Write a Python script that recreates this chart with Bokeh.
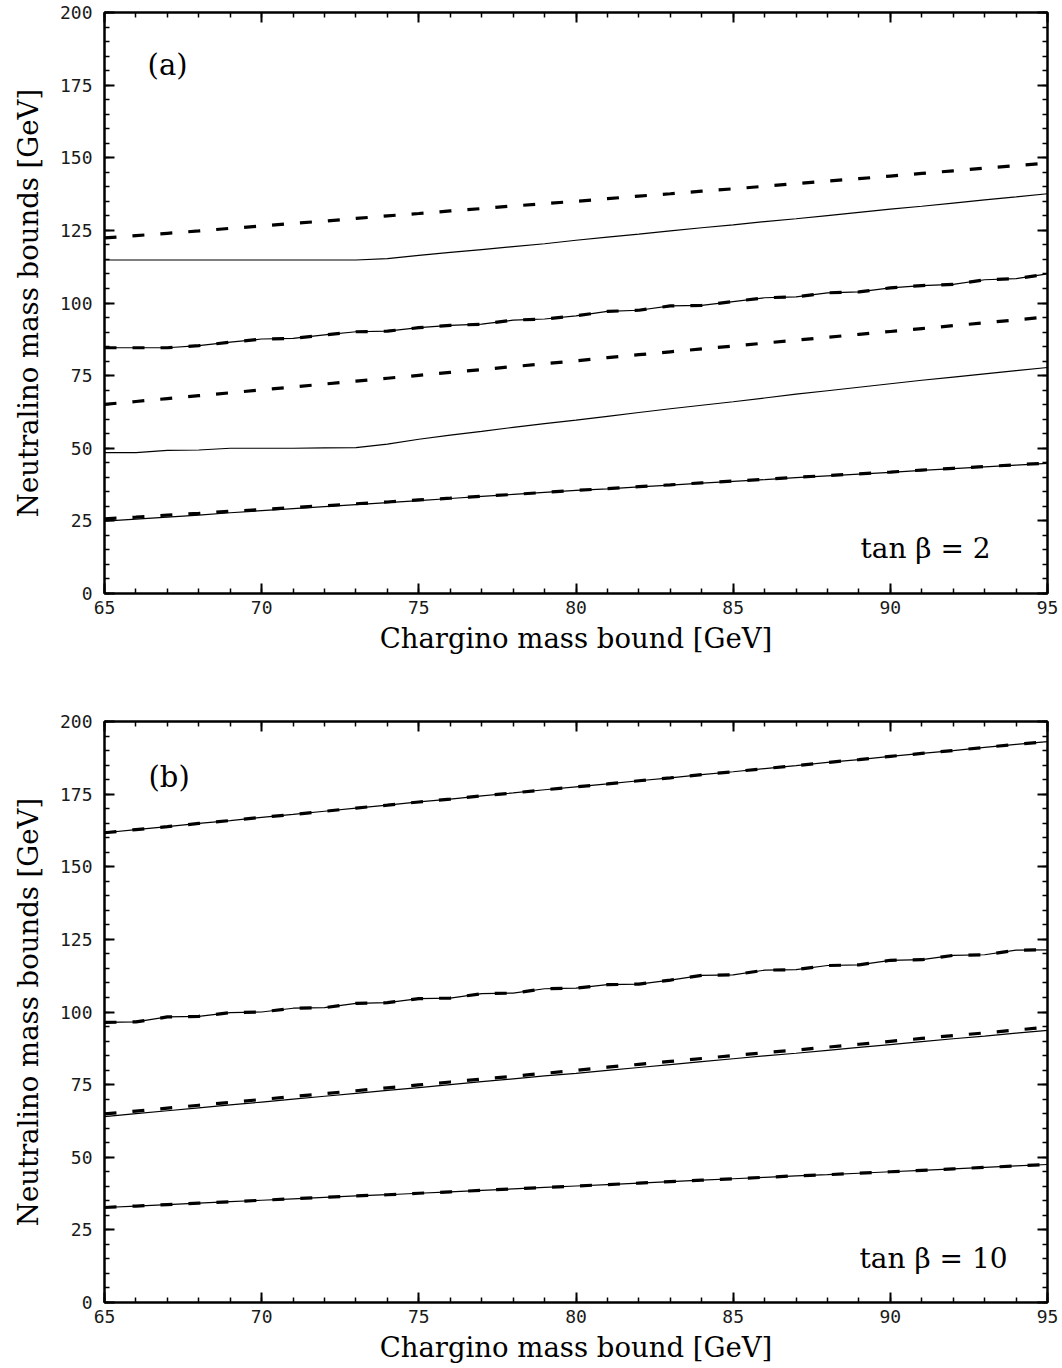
from bokeh.plotting import figure
from bokeh.layouts import column
from bokeh.models import SingleIntervalTicker, LinearAxis, Range1d, CustomJSTickFormatter
from bokeh.core.properties import value
from bokeh.embed import file_html
from bokeh.resources import INLINE

# chargino mass bound [GeV]
chargino = list(range(65, 96))

# ---- panel (a): tan beta = 2 ----
a_dash_top = [122.4, 123.2, 124.0, 124.8, 125.7, 126.5, 127.4, 128.2, 129.1, 130.0, 130.8,
              131.7, 132.5, 133.4, 134.2, 135.0, 135.9, 136.8, 137.6, 138.5, 139.3,
              140.2, 141.1, 142.0, 142.8, 143.7, 144.6, 145.5, 146.4, 147.3, 148.2]
a_solid_top = [114.8, 114.8, 114.8, 114.8, 114.8, 114.8, 114.8, 114.8, 114.8, 115.3, 116.4,
               117.4, 118.4, 119.4, 120.4, 121.6, 122.7, 123.7, 124.8, 125.9, 126.9,
               128.0, 129.0, 130.1, 131.2, 132.3, 133.3, 134.4, 135.5, 136.5, 137.6]
a_mid = [84.6, 84.6, 84.6, 85.3, 86.5, 87.6, 87.8, 89.0, 90.1, 90.3, 91.5,
         92.3, 92.7, 94.1, 94.5, 95.6, 97.1, 97.5, 99.0, 99.2, 100.5,
         101.8, 102.1, 103.5, 103.8, 105.2, 106.0, 106.4, 108.0, 108.4, 110.0]
a_dash_low = [65.1, 66.1, 67.1, 68.1, 69.1, 70.1, 71.1, 72.1, 73.1, 74.1, 75.1,
              76.1, 77.1, 78.1, 79.1, 80.1, 81.2, 82.2, 83.2, 84.2, 85.2,
              86.2, 87.2, 88.2, 89.2, 90.2, 91.2, 92.2, 93.2, 94.2, 95.2]
a_solid_low = [48.5, 48.5, 49.3, 49.4, 50.0, 50.0, 50.0, 50.1, 50.2, 51.4, 53.1,
               54.5, 55.8, 57.2, 58.5, 59.7, 61.0, 62.3, 63.6, 64.8, 66.0,
               67.3, 68.6, 69.8, 71.0, 72.2, 73.4, 74.5, 75.6, 76.7, 77.8]
a_bot_dash = [25.7, 26.3, 27.0, 27.6, 28.3, 28.9, 29.6, 30.2, 30.9, 31.5, 32.2,
              32.8, 33.5, 34.1, 34.8, 35.5, 36.1, 36.8, 37.4, 38.1, 38.7,
              39.3, 40.0, 40.6, 41.2, 41.8, 42.5, 43.1, 43.7, 44.3, 44.9]
a_bot_solid = [24.9, 25.6, 26.3, 27.0, 27.8, 28.5, 29.2, 29.9, 30.6, 31.3, 32.0,
               32.7, 33.4, 34.1, 34.8, 35.5, 36.0, 36.7, 37.3, 38.0, 38.6,
               39.2, 39.9, 40.5, 41.1, 41.7, 42.4, 43.0, 43.6, 44.2, 44.8]

# ---- panel (b): tan beta = 10 ----
b_top = [161.7, 162.8, 163.8, 164.9, 165.9, 167.0, 168.0, 169.1, 170.2, 171.2, 172.3,
         173.3, 174.4, 175.4, 176.5, 177.5, 178.5, 179.6, 180.6, 181.7, 182.7,
         183.8, 184.8, 185.9, 186.9, 188.0, 189.0, 190.0, 191.1, 192.1, 193.1]
b_mid = [96.4, 96.6, 98.3, 98.5, 99.8, 100.0, 101.3, 101.5, 103.0, 103.2, 104.6,
         104.8, 106.3, 106.5, 108.0, 108.2, 109.4, 109.6, 111.0, 112.6, 112.8,
         114.4, 114.6, 116.0, 116.2, 117.8, 118.0, 119.5, 119.7, 121.3, 121.4]
b_low_dash = [64.9, 65.9, 66.9, 67.9, 68.9, 69.9, 70.9, 71.9, 72.9, 73.9, 74.9,
              75.9, 76.9, 77.9, 78.9, 79.9, 81.0, 82.0, 83.0, 84.0, 85.0,
              86.0, 86.9, 87.9, 88.9, 89.9, 90.9, 91.9, 92.8, 93.8, 94.8]
b_low_solid = [64.0, 65.0, 66.0, 67.0, 68.0, 69.0, 70.0, 71.0, 72.0, 73.0, 74.0,
               75.0, 76.0, 77.0, 78.0, 78.9, 79.9, 80.9, 81.9, 82.9, 83.9,
               84.9, 85.8, 86.8, 87.8, 88.8, 89.8, 90.8, 91.7, 92.7, 93.7]
b_bot = [32.7, 33.2, 33.7, 34.2, 34.7, 35.2, 35.7, 36.2, 36.7, 37.1, 37.6,
         38.1, 38.6, 39.1, 39.6, 40.1, 40.6, 41.1, 41.6, 42.1, 42.6,
         43.1, 43.6, 44.0, 44.5, 45.0, 45.5, 46.0, 46.5, 47.0, 47.5]

x_ticks_interval = 5
y_ticks_interval = 25
x_label = "Chargino mass bound [GeV]"
y_label = "Neutralino mass bounds [GeV]"

SERIF = "DejaVu Serif"
MONO = "DejaVu Sans Mono"
DASH = "12 16"


def style_axis(ax, interval, show_labels):
    ax.ticker = SingleIntervalTicker(interval=interval, num_minor_ticks=5)
    ax.axis_line_width = 2
    ax.axis_line_color = "black"
    ax.major_tick_in = 10
    ax.major_tick_out = 0
    ax.minor_tick_in = 5
    ax.minor_tick_out = 0
    ax.major_tick_line_width = 2
    ax.minor_tick_line_width = 1.5
    ax.major_tick_line_color = "black"
    ax.minor_tick_line_color = "black"
    if show_labels:
        ax.major_label_text_font = MONO
        ax.major_label_text_font_size = "18px"
        ax.major_label_text_color = "#1a1a1a"
    else:
        ax.formatter = CustomJSTickFormatter(code="return '';")
        ax.major_label_standoff = 0


def make_panel(top, bottom):
    p = figure(frame_width=943, frame_height=581, output_backend="svg", toolbar_location=None,
               x_range=Range1d(65, 95), y_range=Range1d(0, 200),
               min_border_left=104, min_border_right=13,
               min_border_top=top, min_border_bottom=bottom)
    p.xgrid.visible = False
    p.ygrid.visible = False
    p.outline_line_color = "black"
    p.outline_line_width = 2
    p.background_fill_color = "white"
    p.border_fill_color = "white"
    style_axis(p.xaxis[0], x_ticks_interval, True)
    style_axis(p.yaxis[0], y_ticks_interval, True)
    p.xaxis[0].major_label_standoff = 7
    p.yaxis[0].major_label_standoff = 12
    p.xaxis[0].axis_label = x_label
    p.yaxis[0].axis_label = y_label
    for ax in (p.xaxis[0], p.yaxis[0]):
        ax.axis_label_text_font = SERIF
        ax.axis_label_text_font_style = "normal"
        ax.axis_label_text_font_size = "27.5px"
        ax.axis_label_text_color = "black"
    p.xaxis[0].axis_label_standoff = 5
    p.yaxis[0].axis_label_standoff = 13
    top_ax = LinearAxis()
    style_axis(top_ax, x_ticks_interval, False)
    p.add_layout(top_ax, "above")
    right_ax = LinearAxis()
    style_axis(right_ax, y_ticks_interval, False)
    p.add_layout(right_ax, "right")
    return p


def solid(p, y):
    p.line(chargino, y, line_color="black", line_width=1.2)


def dashed(p, y):
    p.line(chargino, y, line_color="black", line_width=3.2, line_dash=DASH)


pa = make_panel(12, 108)
dashed(pa, a_dash_top)
solid(pa, a_solid_top)
solid(pa, a_mid)
dashed(pa, a_mid)
dashed(pa, a_dash_low)
solid(pa, a_solid_low)
solid(pa, a_bot_solid)
dashed(pa, a_bot_dash)
pa.text(x=[66.37], y=[182], text=["(a)"], text_font=value(SERIF), text_font_size="29px",
        text_baseline="middle", text_align="left", text_color="black")
pa.text(x=[93.19], y=[15.5], text=["tan β = 2"], text_font=value(SERIF), text_font_size="28px",
        text_baseline="middle", text_align="right", text_color="black")

pb = make_panel(20, 60)
solid(pb, b_top)
dashed(pb, b_top)
solid(pb, b_mid)
dashed(pb, b_mid)
solid(pb, b_low_solid)
dashed(pb, b_low_dash)
solid(pb, b_bot)
dashed(pb, b_bot)
pb.text(x=[66.4], y=[181], text=["(b)"], text_font=value(SERIF), text_font_size="29px",
        text_baseline="middle", text_align="left", text_color="black")
pb.text(x=[93.73], y=[15.1], text=["tan β = 10"], text_font=value(SERIF), text_font_size="28px",
        text_baseline="middle", text_align="right", text_color="black")

layout = column(pa, pb, spacing=0)
open("out.html", "w").write(file_html(layout, INLINE))
